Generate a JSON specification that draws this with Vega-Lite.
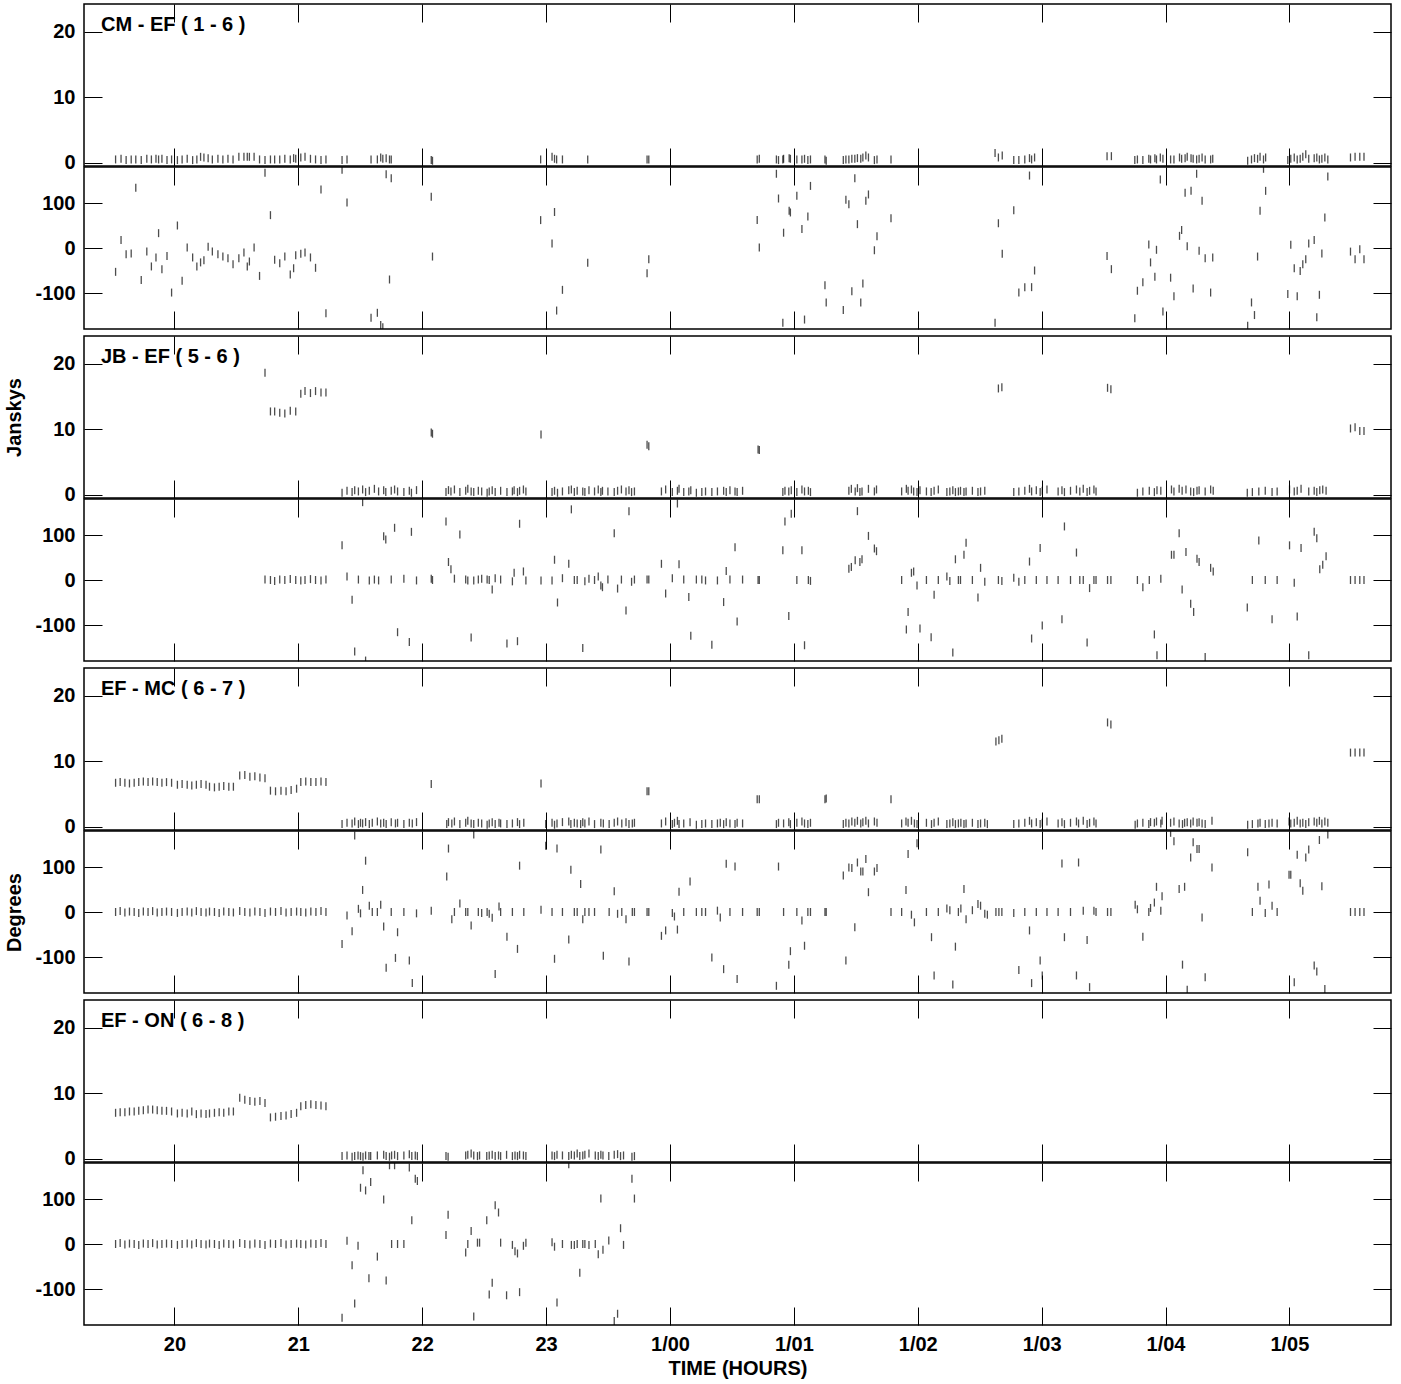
{
"$schema": "https://vega.github.io/schema/vega-lite/v6.json",
"background": "white",
"padding": {"left": 3, "top": 2, "right": 5, "bottom": 3},
"config": {
  "view": {"stroke": "#000", "strokeWidth": 1.5},
  "axis": {"labelFont": "Liberation Sans", "labelFontWeight": "bold", "labelFontSize": 20, "labelColor": "#000",
           "titleFont": "Liberation Sans", "titleFontWeight": "bold", "titleFontSize": 20, "titleColor": "#000",
           "domain": false, "grid": false, "tickColor": "#000", "tickSize": -18, "tickWidth": 1, "labelPadding": 27}
},
"datasets": {
"b1": [
{"t":19.525,"a":0.5,"p":-53},{"t":19.569,"a":0.6,"p":18},{"t":19.610,"a":0.4,"p":-14},{"t":19.651,"a":0.5,"p":-12},{"t":19.688,"a":0.5,"p":134},{"t":19.732,"a":0.4,"p":-71},{"t":19.777,"a":0.6,"p":-8},{"t":19.814,"a":0.5,"p":-41},{"t":19.851,"a":0.6,"p":-21},{"t":19.872,"a":0.5,"p":33},{"t":19.899,"a":0.6,"p":-47},{"t":19.940,"a":0.4,"p":-18},{"t":19.977,"a":0.5,"p":-99},{"t":20.024,"a":0.4,"p":50},{"t":20.062,"a":0.5,"p":-73},{"t":20.103,"a":0.6,"p":1},{"t":20.147,"a":0.4,"p":-21},{"t":20.181,"a":0.5,"p":-41},{"t":20.211,"a":0.9,"p":-32},{"t":20.238,"a":0.8,"p":-27},{"t":20.272,"a":0.7,"p":3},{"t":20.306,"a":0.5,"p":-8},{"t":20.351,"a":0.6,"p":-14},{"t":20.391,"a":0.5,"p":-19},{"t":20.432,"a":0.6,"p":-23},{"t":20.473,"a":0.5,"p":-36},{"t":20.520,"a":0.9,"p":-23},{"t":20.561,"a":0.9,"p":-10},{"t":20.588,"a":0.9,"p":-41},{"t":20.605,"a":0.9,"p":-30},{"t":20.643,"a":0.9,"p":1},{"t":20.687,"a":0.5,"p":-62},{"t":20.731,"a":0.4,"p":167},{"t":20.775,"a":0.5,"p":73},{"t":20.809,"a":0.5,"p":-26},{"t":20.850,"a":0.5,"p":-34},{"t":20.891,"a":0.6,"p":-19},{"t":20.935,"a":0.5,"p":-59},{"t":20.962,"a":0.7,"p":-45},{"t":20.979,"a":0.6,"p":-16},{"t":21.020,"a":0.8,"p":-13},{"t":21.054,"a":0.9,"p":-10},{"t":21.098,"a":0.6,"p":-21},{"t":21.139,"a":0.5,"p":-44},{"t":21.183,"a":0.4,"p":130},{"t":21.223,"a":0.5,"p":-145},{"t":21.353,"a":0.4,"p":174},{"t":21.393,"a":0.5,"p":101},{"t":21.587,"a":0.5,"p":-155},{"t":21.638,"a":0.5,"p":-144},{"t":21.665,"a":0.8,"p":-171},{"t":21.682,"a":0.6,"p":-176},{"t":21.709,"a":0.7,"p":164},{"t":21.736,"a":0.5,"p":-70},{"t":21.750,"a":0.5,"p":155},{"t":22.073,"a":0.4,"p":114},{"t":22.083,"a":0.3,"p":-19},{"t":22.956,"a":0.5,"p":62},{"t":23.048,"a":0.9,"p":10},{"t":23.068,"a":0.6,"p":80},{"t":23.085,"a":0.5,"p":-139},{"t":23.132,"a":0.5,"p":-93},{"t":23.336,"a":0.5,"p":-33},{"t":23.815,"a":0.5,"p":-56},{"t":23.829,"a":0.5,"p":-25},
{"t":24.704,"a":0.5,"p":62},{"t":24.721,"a":0.6,"p":1},{"t":24.859,"a":0.5,"p":165},{"t":24.876,"a":0.4,"p":110},{"t":24.911,"a":0.5,"p":-166},{"t":24.917,"a":0.6,"p":34},{"t":24.962,"a":0.7,"p":83},{"t":24.972,"a":0.6,"p":79},{"t":25.024,"a":0.5,"p":116},{"t":25.065,"a":0.5,"p":42},{"t":25.086,"a":0.6,"p":-159},{"t":25.113,"a":0.4,"p":70},{"t":25.134,"a":0.5,"p":138},{"t":25.251,"a":0.5,"p":-83},{"t":25.261,"a":0.3,"p":-121},{"t":25.399,"a":0.4,"p":-138},{"t":25.420,"a":0.5,"p":107},{"t":25.444,"a":0.5,"p":97},{"t":25.468,"a":0.6,"p":-96},{"t":25.492,"a":0.6,"p":155},{"t":25.513,"a":0.7,"p":53},{"t":25.540,"a":0.6,"p":-121},{"t":25.557,"a":0.8,"p":-79},{"t":25.581,"a":1.1,"p":105},{"t":25.602,"a":0.8,"p":119},{"t":25.650,"a":0.4,"p":-5},{"t":25.671,"a":0.5,"p":26},{"t":25.784,"a":0.5,"p":66},{"t":26.624,"a":1.5,"p":-166},{"t":26.651,"a":0.8,"p":55},{"t":26.682,"a":1.1,"p":-13},{"t":26.775,"a":0.4,"p":84},{"t":26.816,"a":0.4,"p":-99},{"t":26.864,"a":0.5,"p":-87},{"t":26.902,"a":0.7,"p":161},{"t":26.919,"a":0.5,"p":-87},{"t":26.943,"a":0.8,"p":-50},{"t":27.528,"a":1.0,"p":-18},{"t":27.563,"a":1.0,"p":-47},{"t":27.752,"a":0.4,"p":-156},{"t":27.773,"a":0.5,"p":-95},{"t":27.817,"a":0.4,"p":-76},{"t":27.865,"a":0.6,"p":8},{"t":27.879,"a":0.5,"p":-32},{"t":27.914,"a":0.7,"p":-64},{"t":27.927,"a":0.5,"p":-4},{"t":27.958,"a":0.8,"p":152},{"t":27.979,"a":0.6,"p":-141},{"t":28.041,"a":0.5,"p":-66},{"t":28.068,"a":0.5,"p":-107},{"t":28.113,"a":0.8,"p":27},{"t":28.130,"a":0.6,"p":40},{"t":28.158,"a":0.7,"p":123},{"t":28.175,"a":0.9,"p":4},{"t":28.206,"a":0.7,"p":127},{"t":28.223,"a":0.6,"p":-90},{"t":28.251,"a":0.5,"p":165},{"t":28.271,"a":0.6,"p":-6},{"t":28.295,"a":0.8,"p":105},{"t":28.320,"a":0.5,"p":-23},{"t":28.364,"a":0.5,"p":-99},{"t":28.381,"a":0.6,"p":-21},{"t":28.663,"a":0.3,"p":-173},{"t":28.694,"a":0.5,"p":-121},{"t":28.718,"a":0.7,"p":-149},{"t":28.743,"a":0.6,"p":-19},{"t":28.763,"a":0.9,"p":83},{"t":28.791,"a":0.5,"p":176},{"t":28.808,"a":0.8,"p":127},{"t":28.987,"a":0.4,"p":-102},{"t":29.011,"a":0.6,"p":7},{"t":29.039,"a":0.8,"p":-45},{"t":29.063,"a":0.5,"p":-107},{"t":29.087,"a":0.6,"p":-51},{"t":29.108,"a":0.9,"p":-36},{"t":29.132,"a":1.3,"p":-25},{"t":29.156,"a":0.6,"p":10},{"t":29.200,"a":0.7,"p":18},{"t":29.221,"a":0.8,"p":-154},{"t":29.242,"a":0.5,"p":-104},{"t":29.262,"a":0.6,"p":-12},{"t":29.286,"a":0.8,"p":68},{"t":29.310,"a":0.5,"p":159},{"t":29.493,"a":0.8,"p":-8},{"t":29.530,"a":0.9,"p":-25},{"t":29.568,"a":0.9,"p":-3},{"t":29.602,"a":0.9,"p":-25}
],
"b2": [
{"t":20.731,"a":18.6,"p":1},{"t":20.775,"a":12.7,"p":0},{"t":20.809,"a":12.7,"p":-2},{"t":20.850,"a":12.5,"p":1},{"t":20.891,"a":12.4,"p":0},{"t":20.935,"a":12.8,"p":2},{"t":20.979,"a":12.7,"p":0},{"t":21.020,"a":15.4,"p":-1},{"t":21.054,"a":15.8,"p":0},{"t":21.098,"a":15.5,"p":2},{"t":21.139,"a":15.8,"p":0},{"t":21.183,"a":15.6,"p":-1},{"t":21.223,"a":15.6,"p":1},
{"t":21.353,"a":0.3,"p":77},{"t":21.393,"a":0.6,"p":8},{"t":21.434,"a":0.4,"p":-44},{"t":21.455,"a":0.7,"p":-159},{"t":21.485,"a":0.5,"p":1},{"t":21.519,"a":0.8,"p":173},{"t":21.543,"a":0.4,"p":-179},{"t":21.573,"a":0.6,"p":-1},{"t":21.614,"a":0.9,"p":1},{"t":21.648,"a":0.5,"p":-1},{"t":21.689,"a":0.7,"p":97},{"t":21.706,"a":0.4,"p":90},{"t":21.750,"a":0.6,"p":1},{"t":21.777,"a":0.8,"p":116},{"t":21.801,"a":0.5,"p":-116},{"t":21.852,"a":0.4,"p":3},{"t":21.896,"a":0.6,"p":-138},{"t":21.913,"a":0.3,"p":107},{"t":21.954,"a":0.7,"p":-1},
{"t":22.073,"a":9.5,"p":3},{"t":22.083,"a":9.3,"p":0},
{"t":22.192,"a":0.4,"p":130},{"t":22.212,"a":0.7,"p":40},{"t":22.232,"a":0.5,"p":24},{"t":22.260,"a":0.8,"p":3},{"t":22.304,"a":0.4,"p":101},{"t":22.351,"a":0.6,"p":1},{"t":22.368,"a":0.9,"p":-1},{"t":22.395,"a":0.5,"p":-128},{"t":22.416,"a":0.4,"p":-1},{"t":22.453,"a":0.6,"p":1},{"t":22.480,"a":0.5,"p":3},{"t":22.524,"a":0.3,"p":1},{"t":22.541,"a":0.5,"p":0},{"t":22.565,"a":0.7,"p":-21},{"t":22.589,"a":0.4,"p":4},{"t":22.633,"a":0.6,"p":1},{"t":22.684,"a":0.4,"p":-141},{"t":22.728,"a":0.5,"p":-3},{"t":22.742,"a":0.7,"p":16},{"t":22.769,"a":0.4,"p":-136},{"t":22.786,"a":0.6,"p":125},{"t":22.817,"a":0.8,"p":19},{"t":22.837,"a":0.5,"p":-1},
{"t":22.959,"a":9.2,"p":-1},
{"t":23.048,"a":0.4,"p":-1},{"t":23.068,"a":0.6,"p":45},{"t":23.092,"a":0.3,"p":-50},{"t":23.132,"a":0.5,"p":4},{"t":23.183,"a":0.7,"p":36},{"t":23.204,"a":0.8,"p":157},{"t":23.228,"a":0.4,"p":0},{"t":23.251,"a":0.6,"p":0},{"t":23.296,"a":0.5,"p":-151},{"t":23.313,"a":0.4,"p":-3},{"t":23.346,"a":0.7,"p":3},{"t":23.391,"a":0.5,"p":0},{"t":23.421,"a":0.8,"p":8},{"t":23.442,"a":0.4,"p":-12},{"t":23.455,"a":0.6,"p":-16},{"t":23.499,"a":0.5,"p":1},{"t":23.550,"a":0.4,"p":104},{"t":23.577,"a":0.6,"p":-19},{"t":23.608,"a":0.8,"p":1},{"t":23.645,"a":0.5,"p":-68},{"t":23.669,"a":0.7,"p":153},{"t":23.690,"a":0.4,"p":-4},{"t":23.713,"a":0.5,"p":1},
{"t":23.815,"a":7.6,"p":1},{"t":23.829,"a":7.4,"p":1},
{"t":23.931,"a":0.5,"p":36},{"t":23.965,"a":0.8,"p":-30},{"t":24.019,"a":0.4,"p":4},{"t":24.060,"a":0.6,"p":170},{"t":24.073,"a":0.9,"p":35},{"t":24.111,"a":0.4,"p":1},{"t":24.152,"a":0.5,"p":-38},{"t":24.168,"a":0.7,"p":-124},{"t":24.213,"a":0.3,"p":1},{"t":24.257,"a":0.4,"p":1},{"t":24.287,"a":0.5,"p":-1},{"t":24.338,"a":0.4,"p":-144},{"t":24.383,"a":0.5,"p":-1},{"t":24.433,"a":0.6,"p":-49},{"t":24.454,"a":0.4,"p":20},{"t":24.484,"a":0.7,"p":1},{"t":24.525,"a":0.5,"p":73},{"t":24.542,"a":0.4,"p":-92},{"t":24.586,"a":0.6,"p":1},
{"t":24.711,"a":6.9,"p":0},{"t":24.721,"a":6.8,"p":0},
{"t":24.911,"a":0.4,"p":66},{"t":24.928,"a":0.6,"p":130},{"t":24.959,"a":0.5,"p":-80},{"t":24.979,"a":0.7,"p":147},{"t":25.024,"a":0.4,"p":0},{"t":25.065,"a":0.8,"p":66},{"t":25.086,"a":0.5,"p":-145},{"t":25.117,"a":0.6,"p":0},{"t":25.134,"a":0.4,"p":-2},
{"t":25.444,"a":0.6,"p":25},{"t":25.464,"a":0.9,"p":29},{"t":25.495,"a":0.5,"p":44},{"t":25.513,"a":1.0,"p":153},{"t":25.533,"a":0.4,"p":40},{"t":25.550,"a":0.5,"p":46},{"t":25.602,"a":0.9,"p":98},{"t":25.650,"a":0.5,"p":70},{"t":25.667,"a":0.8,"p":64},
{"t":25.870,"a":0.5,"p":0},{"t":25.908,"a":0.9,"p":-110},{"t":25.922,"a":0.6,"p":-71},{"t":25.949,"a":0.8,"p":16},{"t":25.967,"a":0.5,"p":19},{"t":25.994,"a":0.4,"p":-12},{"t":26.018,"a":0.7,"p":-108},{"t":26.070,"a":0.5,"p":0},{"t":26.108,"a":0.4,"p":-127},{"t":26.132,"a":0.6,"p":-33},{"t":26.166,"a":0.8,"p":0},{"t":26.235,"a":0.4,"p":8},{"t":26.259,"a":0.5,"p":-2},{"t":26.283,"a":0.7,"p":-161},{"t":26.304,"a":0.4,"p":46},{"t":26.328,"a":0.5,"p":0},{"t":26.345,"a":0.6,"p":0},{"t":26.373,"a":0.4,"p":56},{"t":26.390,"a":0.5,"p":83},{"t":26.441,"a":0.6,"p":0},{"t":26.486,"a":0.4,"p":-39},{"t":26.507,"a":0.5,"p":27},{"t":26.541,"a":0.6,"p":-4},
{"t":26.651,"a":16.2,"p":0},{"t":26.679,"a":16.4,"p":-2},
{"t":26.775,"a":0.4,"p":5},{"t":26.816,"a":0.5,"p":-4},{"t":26.864,"a":0.6,"p":0},{"t":26.902,"a":0.9,"p":41},{"t":26.919,"a":0.5,"p":-130},{"t":26.957,"a":0.7,"p":0},{"t":26.988,"a":0.4,"p":71},{"t":27.005,"a":0.6,"p":-101},{"t":27.043,"a":0.8,"p":0},{"t":27.133,"a":0.5,"p":0},{"t":27.164,"a":0.7,"p":-87},{"t":27.184,"a":0.4,"p":119},{"t":27.233,"a":0.6,"p":0},{"t":27.281,"a":0.8,"p":61},{"t":27.308,"a":0.5,"p":0},{"t":27.336,"a":0.9,"p":0},{"t":27.367,"a":0.4,"p":-139},{"t":27.387,"a":0.6,"p":-18},{"t":27.422,"a":0.8,"p":0},{"t":27.439,"a":0.5,"p":0},
{"t":27.532,"a":16.3,"p":0},{"t":27.559,"a":16.1,"p":0},
{"t":27.773,"a":0.3,"p":0},{"t":27.817,"a":0.5,"p":-16},{"t":27.869,"a":0.6,"p":0},{"t":27.910,"a":0.4,"p":-121},{"t":27.931,"a":0.7,"p":-167},{"t":27.962,"a":0.6,"p":3},{"t":28.048,"a":0.8,"p":56},{"t":28.068,"a":0.5,"p":56},{"t":28.110,"a":0.9,"p":104},{"t":28.134,"a":0.6,"p":-21},{"t":28.165,"a":0.8,"p":62},{"t":28.203,"a":0.5,"p":-53},{"t":28.227,"a":0.4,"p":-71},{"t":28.254,"a":0.6,"p":47},{"t":28.271,"a":0.7,"p":40},{"t":28.320,"a":0.5,"p":-171},{"t":28.364,"a":0.8,"p":27},{"t":28.385,"a":0.6,"p":19},
{"t":28.660,"a":0.3,"p":-61},{"t":28.701,"a":0.4,"p":0},{"t":28.753,"a":0.5,"p":88},{"t":28.805,"a":0.6,"p":0},{"t":28.860,"a":0.4,"p":-87},{"t":28.901,"a":0.5,"p":0},{"t":29.001,"a":0.8,"p":77},{"t":29.039,"a":0.5,"p":-6},{"t":29.063,"a":0.6,"p":-81},{"t":29.094,"a":0.9,"p":71},{"t":29.156,"a":0.5,"p":-167},{"t":29.200,"a":0.6,"p":107},{"t":29.221,"a":0.4,"p":93},{"t":29.245,"a":0.7,"p":24},{"t":29.269,"a":0.8,"p":34},{"t":29.296,"a":0.6,"p":53},
{"t":29.493,"a":10.1,"p":0},{"t":29.530,"a":10.3,"p":0},{"t":29.568,"a":9.7,"p":0},{"t":29.602,"a":9.7,"p":0}
],
"b3": [
{"t":19.525,"a":6.7,"p":0},{"t":19.562,"a":6.8,"p":2},{"t":19.600,"a":6.7,"p":-1},{"t":19.637,"a":6.6,"p":1},{"t":19.675,"a":6.7,"p":0},{"t":19.712,"a":6.8,"p":-2},{"t":19.749,"a":6.9,"p":1},{"t":19.787,"a":6.8,"p":0},{"t":19.824,"a":6.9,"p":2},{"t":19.861,"a":6.8,"p":-1},{"t":19.899,"a":6.7,"p":0},{"t":19.936,"a":6.8,"p":1},{"t":19.977,"a":6.7,"p":0},
{"t":20.024,"a":6.4,"p":-2},{"t":20.062,"a":6.5,"p":0},{"t":20.103,"a":6.4,"p":1},{"t":20.140,"a":6.3,"p":-1},{"t":20.177,"a":6.4,"p":2},{"t":20.215,"a":6.5,"p":0},{"t":20.255,"a":6.4,"p":-1},
{"t":20.283,"a":6.1,"p":1},{"t":20.323,"a":6.0,"p":0},{"t":20.361,"a":6.1,"p":-2},{"t":20.398,"a":6.2,"p":1},{"t":20.439,"a":6.1,"p":0},{"t":20.476,"a":6.1,"p":-1},
{"t":20.527,"a":7.8,"p":2},{"t":20.568,"a":7.9,"p":0},{"t":20.609,"a":7.6,"p":-1},{"t":20.649,"a":7.7,"p":1},{"t":20.690,"a":7.5,"p":0},{"t":20.731,"a":7.4,"p":-2},
{"t":20.775,"a":5.5,"p":1},{"t":20.816,"a":5.4,"p":0},{"t":20.860,"a":5.5,"p":2},{"t":20.901,"a":5.4,"p":-1},{"t":20.942,"a":5.6,"p":0},{"t":20.986,"a":5.8,"p":1},
{"t":21.020,"a":6.8,"p":0},{"t":21.060,"a":6.9,"p":-1},{"t":21.101,"a":6.8,"p":1},{"t":21.142,"a":6.8,"p":0},{"t":21.183,"a":6.9,"p":2},{"t":21.223,"a":6.8,"p":0},
{"t":21.353,"a":0.4,"p":-71},{"t":21.393,"a":0.6,"p":-8},{"t":21.434,"a":0.5,"p":-43},{"t":21.455,"a":0.8,"p":170},{"t":21.485,"a":0.4,"p":7},{"t":21.502,"a":0.6,"p":-3},{"t":21.519,"a":0.5,"p":49},{"t":21.543,"a":0.7,"p":114},{"t":21.573,"a":0.4,"p":14},{"t":21.597,"a":0.6,"p":0},{"t":21.638,"a":0.8,"p":0},{"t":21.665,"a":0.5,"p":16},{"t":21.689,"a":0.6,"p":-32},{"t":21.709,"a":0.4,"p":-124},{"t":21.750,"a":0.7,"p":0},{"t":21.784,"a":0.5,"p":-102},{"t":21.801,"a":0.6,"p":-45},{"t":21.852,"a":0.4,"p":0},{"t":21.896,"a":0.6,"p":-108},{"t":21.920,"a":0.5,"p":-158},{"t":21.954,"a":0.7,"p":-3},
{"t":22.073,"a":6.5,"p":3},
{"t":22.198,"a":0.4,"p":79},{"t":22.212,"a":0.7,"p":141},{"t":22.239,"a":0.5,"p":-16},{"t":22.260,"a":0.8,"p":0},{"t":22.304,"a":0.4,"p":19},{"t":22.351,"a":0.6,"p":0},{"t":22.368,"a":0.9,"p":0},{"t":22.395,"a":0.5,"p":-30},{"t":22.416,"a":0.4,"p":172},{"t":22.453,"a":0.6,"p":0},{"t":22.480,"a":0.5,"p":-2},{"t":22.524,"a":0.3,"p":0},{"t":22.541,"a":0.5,"p":-4},{"t":22.565,"a":0.7,"p":-13},{"t":22.589,"a":0.4,"p":-138},{"t":22.620,"a":0.6,"p":12},{"t":22.633,"a":0.5,"p":0},{"t":22.684,"a":0.4,"p":-55},{"t":22.728,"a":0.5,"p":0},{"t":22.769,"a":0.7,"p":-82},{"t":22.786,"a":0.4,"p":103},{"t":22.820,"a":0.6,"p":0},
{"t":22.959,"a":6.6,"p":5},
{"t":22.997,"a":0.4,"p":147},{"t":23.048,"a":0.6,"p":0},{"t":23.068,"a":0.3,"p":-104},{"t":23.088,"a":0.5,"p":141},{"t":23.132,"a":0.7,"p":0},{"t":23.183,"a":0.8,"p":-61},{"t":23.200,"a":0.4,"p":94},{"t":23.228,"a":0.6,"p":0},{"t":23.251,"a":0.5,"p":0},{"t":23.279,"a":0.4,"p":62},{"t":23.296,"a":0.7,"p":-16},{"t":23.313,"a":0.5,"p":0},{"t":23.346,"a":0.8,"p":0},{"t":23.391,"a":0.4,"p":0},{"t":23.442,"a":0.6,"p":139},{"t":23.462,"a":0.5,"p":-97},{"t":23.509,"a":0.4,"p":0},{"t":23.550,"a":0.6,"p":46},{"t":23.577,"a":0.8,"p":-4},{"t":23.611,"a":0.5,"p":0},{"t":23.645,"a":0.7,"p":-16},{"t":23.669,"a":0.4,"p":-110},{"t":23.696,"a":0.5,"p":0},{"t":23.713,"a":0.6,"p":0},
{"t":23.815,"a":5.4,"p":0},{"t":23.829,"a":5.4,"p":0},
{"t":23.931,"a":0.5,"p":-53},{"t":23.965,"a":0.8,"p":-41},{"t":24.019,"a":0.4,"p":-2},{"t":24.036,"a":0.6,"p":-10},{"t":24.060,"a":0.9,"p":-39},{"t":24.073,"a":0.4,"p":45},{"t":24.111,"a":0.5,"p":0},{"t":24.162,"a":0.7,"p":68},{"t":24.213,"a":0.3,"p":0},{"t":24.257,"a":0.4,"p":0},{"t":24.287,"a":0.5,"p":0},{"t":24.338,"a":0.4,"p":-101},{"t":24.383,"a":0.5,"p":3},{"t":24.406,"a":0.6,"p":-12},{"t":24.433,"a":0.4,"p":-127},{"t":24.454,"a":0.7,"p":107},{"t":24.484,"a":0.5,"p":0},{"t":24.525,"a":0.4,"p":101},{"t":24.542,"a":0.6,"p":-149},{"t":24.586,"a":0.5,"p":0},
{"t":24.704,"a":4.2,"p":0},{"t":24.721,"a":4.2,"p":0},
{"t":24.859,"a":0.4,"p":-164},{"t":24.876,"a":0.6,"p":101},{"t":24.917,"a":0.5,"p":0},{"t":24.959,"a":0.7,"p":-117},{"t":24.972,"a":0.4,"p":-87},{"t":25.024,"a":0.6,"p":0},{"t":25.065,"a":0.8,"p":-19},{"t":25.086,"a":0.5,"p":-75},{"t":25.113,"a":0.4,"p":0},{"t":25.134,"a":0.6,"p":0},
{"t":25.251,"a":4.2,"p":0},{"t":25.261,"a":4.3,"p":0},
{"t":25.399,"a":0.4,"p":81},{"t":25.420,"a":0.6,"p":-108},{"t":25.444,"a":0.5,"p":99},{"t":25.468,"a":0.8,"p":98},{"t":25.492,"a":0.6,"p":-34},{"t":25.513,"a":0.9,"p":110},{"t":25.540,"a":0.5,"p":90},{"t":25.557,"a":0.7,"p":90},{"t":25.581,"a":0.9,"p":118},{"t":25.602,"a":0.5,"p":44},{"t":25.650,"a":0.8,"p":90},{"t":25.671,"a":0.6,"p":98},
{"t":25.784,"a":4.2,"p":0},
{"t":25.870,"a":0.5,"p":0},{"t":25.905,"a":0.8,"p":49},{"t":25.922,"a":0.6,"p":129},{"t":25.949,"a":0.9,"p":-6},{"t":25.973,"a":0.5,"p":-23},{"t":25.994,"a":0.4,"p":153},{"t":26.070,"a":0.6,"p":0},{"t":26.111,"a":0.4,"p":-56},{"t":26.132,"a":0.6,"p":-141},{"t":26.166,"a":0.8,"p":0},{"t":26.235,"a":0.4,"p":8},{"t":26.259,"a":0.5,"p":4},{"t":26.283,"a":0.7,"p":-161},{"t":26.304,"a":0.4,"p":-77},{"t":26.328,"a":0.5,"p":0},{"t":26.348,"a":0.6,"p":8},{"t":26.373,"a":0.4,"p":51},{"t":26.390,"a":0.5,"p":-16},{"t":26.441,"a":0.6,"p":4},{"t":26.486,"a":0.4,"p":18},{"t":26.507,"a":0.5,"p":14},{"t":26.541,"a":0.6,"p":-4},{"t":26.562,"a":0.4,"p":-6},
{"t":26.631,"a":13.0,"p":0},{"t":26.655,"a":13.2,"p":0},{"t":26.679,"a":13.4,"p":0},
{"t":26.775,"a":0.4,"p":-2},{"t":26.816,"a":0.5,"p":-129},{"t":26.864,"a":0.6,"p":0},{"t":26.902,"a":0.9,"p":-41},{"t":26.919,"a":0.5,"p":-158},{"t":26.957,"a":0.7,"p":0},{"t":26.988,"a":0.4,"p":-108},{"t":27.005,"a":0.6,"p":-141},{"t":27.043,"a":0.8,"p":0},{"t":27.133,"a":0.5,"p":0},{"t":27.164,"a":0.7,"p":108},{"t":27.184,"a":0.4,"p":-56},{"t":27.233,"a":0.6,"p":0},{"t":27.281,"a":0.8,"p":-141},{"t":27.298,"a":0.5,"p":110},{"t":27.336,"a":0.9,"p":3},{"t":27.367,"a":0.4,"p":-62},{"t":27.387,"a":0.6,"p":-167},{"t":27.422,"a":0.8,"p":3},{"t":27.439,"a":0.5,"p":0},
{"t":27.532,"a":15.9,"p":0},{"t":27.559,"a":15.6,"p":0},
{"t":27.755,"a":0.3,"p":16},{"t":27.773,"a":0.5,"p":6},{"t":27.817,"a":0.6,"p":-55},{"t":27.865,"a":0.4,"p":0},{"t":27.879,"a":0.7,"p":9},{"t":27.910,"a":0.6,"p":21},{"t":27.927,"a":0.8,"p":56},{"t":27.962,"a":0.5,"p":3},{"t":27.972,"a":0.9,"p":35},{"t":28.041,"a":0.6,"p":176},{"t":28.068,"a":0.8,"p":157},{"t":28.110,"a":0.5,"p":51},{"t":28.137,"a":0.4,"p":-117},{"t":28.154,"a":0.6,"p":56},{"t":28.175,"a":0.7,"p":-173},{"t":28.203,"a":0.5,"p":121},{"t":28.223,"a":0.8,"p":155},{"t":28.254,"a":0.6,"p":140},{"t":28.271,"a":0.7,"p":140},{"t":28.295,"a":0.5,"p":-12},{"t":28.320,"a":0.4,"p":-145},{"t":28.375,"a":0.9,"p":99},
{"t":28.663,"a":0.3,"p":133},{"t":28.701,"a":0.4,"p":0},{"t":28.746,"a":0.5,"p":56},{"t":28.763,"a":0.6,"p":25},{"t":28.805,"a":0.4,"p":-2},{"t":28.835,"a":0.5,"p":61},{"t":28.860,"a":0.6,"p":14},{"t":28.901,"a":0.5,"p":0},{"t":28.997,"a":0.8,"p":83},{"t":29.011,"a":0.5,"p":83},{"t":29.039,"a":0.6,"p":-156},{"t":29.063,"a":0.9,"p":127},{"t":29.087,"a":0.5,"p":64},{"t":29.108,"a":0.6,"p":47},{"t":29.132,"a":0.4,"p":121},{"t":29.156,"a":0.7,"p":139},{"t":29.200,"a":0.8,"p":-119},{"t":29.221,"a":0.6,"p":-132},{"t":29.242,"a":0.9,"p":160},{"t":29.262,"a":0.5,"p":57},{"t":29.286,"a":0.8,"p":-171},{"t":29.310,"a":0.6,"p":172},
{"t":29.493,"a":11.3,"p":0},{"t":29.530,"a":11.3,"p":0},{"t":29.568,"a":11.3,"p":0},{"t":29.602,"a":11.3,"p":0}
],
"b4": [
{"t":19.525,"a":7.0,"p":0},{"t":19.562,"a":7.1,"p":2},{"t":19.600,"a":7.1,"p":-1},{"t":19.637,"a":7.2,"p":1},{"t":19.675,"a":7.2,"p":0},{"t":19.712,"a":7.3,"p":-2},{"t":19.749,"a":7.4,"p":1},{"t":19.787,"a":7.5,"p":0},{"t":19.824,"a":7.5,"p":2},{"t":19.861,"a":7.4,"p":-1},{"t":19.899,"a":7.3,"p":0},{"t":19.936,"a":7.3,"p":1},{"t":19.977,"a":7.2,"p":0},
{"t":20.024,"a":6.9,"p":-2},{"t":20.062,"a":7.0,"p":0},{"t":20.103,"a":6.9,"p":1},{"t":20.140,"a":7.2,"p":-1},{"t":20.177,"a":6.8,"p":2},{"t":20.215,"a":6.9,"p":0},{"t":20.255,"a":6.8,"p":-1},
{"t":20.283,"a":6.9,"p":1},{"t":20.323,"a":7.0,"p":0},{"t":20.361,"a":7.1,"p":-2},{"t":20.398,"a":7.0,"p":1},{"t":20.439,"a":7.2,"p":0},{"t":20.476,"a":7.2,"p":-1},
{"t":20.527,"a":9.3,"p":2},{"t":20.568,"a":9.0,"p":0},{"t":20.609,"a":8.8,"p":-1},{"t":20.649,"a":8.7,"p":1},{"t":20.690,"a":8.8,"p":0},{"t":20.731,"a":8.5,"p":-2},
{"t":20.775,"a":6.3,"p":1},{"t":20.816,"a":6.4,"p":0},{"t":20.860,"a":6.5,"p":2},{"t":20.901,"a":6.6,"p":-1},{"t":20.942,"a":6.8,"p":0},{"t":20.986,"a":7.0,"p":1},
{"t":21.020,"a":8.0,"p":0},{"t":21.060,"a":8.2,"p":-1},{"t":21.101,"a":8.3,"p":1},{"t":21.142,"a":8.2,"p":0},{"t":21.183,"a":8.1,"p":2},{"t":21.223,"a":8.0,"p":0},
{"t":21.353,"a":0.4,"p":-164},{"t":21.393,"a":0.5,"p":7},{"t":21.434,"a":0.3,"p":-47},{"t":21.455,"a":0.4,"p":-132},{"t":21.482,"a":0.5,"p":-4},{"t":21.502,"a":0.4,"p":125},{"t":21.522,"a":0.3,"p":164},{"t":21.543,"a":0.5,"p":119},{"t":21.570,"a":0.4,"p":-76},{"t":21.584,"a":0.4,"p":138},{"t":21.638,"a":0.5,"p":-28},{"t":21.689,"a":0.6,"p":99},{"t":21.709,"a":0.4,"p":-81},{"t":21.736,"a":0.3,"p":175},{"t":21.753,"a":0.5,"p":0},{"t":21.777,"a":0.6,"p":175},{"t":21.801,"a":0.4,"p":0},{"t":21.852,"a":0.5,"p":0},{"t":21.896,"a":0.7,"p":170},{"t":21.916,"a":0.4,"p":53},{"t":21.944,"a":0.5,"p":145},{"t":21.961,"a":0.4,"p":140},
{"t":22.192,"a":0.4,"p":20},{"t":22.209,"a":0.3,"p":65},
{"t":22.351,"a":0.5,"p":-19},{"t":22.368,"a":0.6,"p":0},{"t":22.395,"a":0.8,"p":29},{"t":22.416,"a":0.5,"p":-161},{"t":22.446,"a":0.4,"p":3},{"t":22.463,"a":0.5,"p":3},{"t":22.521,"a":0.4,"p":53},{"t":22.541,"a":0.5,"p":-112},{"t":22.565,"a":0.6,"p":-86},{"t":22.589,"a":0.4,"p":86},{"t":22.616,"a":0.5,"p":70},{"t":22.633,"a":0.4,"p":3},{"t":22.681,"a":0.6,"p":-114},{"t":22.728,"a":0.4,"p":-2},{"t":22.749,"a":0.5,"p":-16},{"t":22.769,"a":0.4,"p":-21},{"t":22.786,"a":0.6,"p":-107},{"t":22.817,"a":0.5,"p":-4},{"t":22.837,"a":0.4,"p":3},
{"t":23.048,"a":0.5,"p":4},{"t":23.068,"a":0.4,"p":-6},{"t":23.088,"a":0.6,"p":-130},{"t":23.132,"a":0.5,"p":0},{"t":23.183,"a":0.4,"p":177},{"t":23.204,"a":0.6,"p":-2},{"t":23.228,"a":0.5,"p":-2},{"t":23.251,"a":0.8,"p":0},{"t":23.272,"a":0.4,"p":-64},{"t":23.296,"a":0.5,"p":0},{"t":23.313,"a":0.6,"p":0},{"t":23.346,"a":0.8,"p":-2},{"t":23.397,"a":0.5,"p":0},{"t":23.421,"a":0.4,"p":-23},{"t":23.442,"a":0.6,"p":101},{"t":23.459,"a":0.5,"p":-13},{"t":23.506,"a":0.4,"p":8},{"t":23.550,"a":0.6,"p":-171},{"t":23.577,"a":0.7,"p":-155},{"t":23.601,"a":0.4,"p":35},{"t":23.625,"a":0.5,"p":-2},{"t":23.693,"a":0.3,"p":145},{"t":23.713,"a":0.4,"p":101}
]
},
"spacing": 3,
"vconcat": [
 {"spacing": 1, "bounds": "flush", "vconcat": [
  {"width": 1307, "height": 162, "data": {"name": "b1"},
   "title": {"text": "CM - EF ( 1 - 6 )", "anchor": "start", "frame": "group", "offset": -27, "dx": 17, "dy": 20, "baseline": "alphabetic", "font": "Liberation Sans", "fontSize": 20, "fontWeight": "bold", "color": "#000"},
   "layer": [
    {"mark": {"type": "tick", "orient": "vertical", "size": 8, "thickness": 1.3, "color": "#000", "clip": true},
     "encoding": {"x": {"field": "t", "type": "quantitative", "scale": {"domain": [19.27, 29.82], "nice": false, "zero": false}, "axis": {"orient": "bottom", "values": [20,21,22,23,24,25,26,27,28,29], "labels": false, "title": null}},
                  "y": {"field": "a", "type": "quantitative", "scale": {"domain": [-0.5, 24.2], "nice": false, "zero": false}, "axis": {"orient": "left", "values": [0,10,20], "title": null}}}},
    {"mark": {"type": "tick", "orient": "vertical", "opacity": 0, "clip": true},
     "encoding": {"x": {"field": "t", "type": "quantitative", "axis": {"orient": "top", "values": [20,21,22,23,24,25,26,27,28,29], "labels": false, "title": null}},
                  "y": {"field": "a", "type": "quantitative", "axis": {"orient": "right", "values": [0,10,20], "labels": false, "title": null}}}}
   ],
   "resolve": {"axis": {"x": "independent", "y": "independent"}}},
  {"width": 1307, "height": 162, "data": {"name": "b1"},
   "layer": [
    {"mark": {"type": "tick", "orient": "vertical", "size": 8, "thickness": 1.3, "color": "#000", "clip": true},
     "encoding": {"x": {"field": "t", "type": "quantitative", "scale": {"domain": [19.27, 29.82], "nice": false, "zero": false}, "axis": {"orient": "bottom", "values": [20,21,22,23,24,25,26,27,28,29], "labels": false, "title": null}},
                  "y": {"field": "p", "type": "quantitative", "scale": {"domain": [-180, 180], "nice": false, "zero": false}, "axis": {"orient": "left", "values": [-100,0,100], "labelExpr": "datum.value + ''", "title": null}}}},
    {"mark": {"type": "tick", "orient": "vertical", "opacity": 0, "clip": true},
     "encoding": {"x": {"field": "t", "type": "quantitative", "axis": {"orient": "top", "values": [20,21,22,23,24,25,26,27,28,29], "labels": false, "title": null}},
                  "y": {"field": "p", "type": "quantitative", "axis": {"orient": "right", "values": [-100,0,100], "labels": false, "title": null}}}}
   ],
   "resolve": {"axis": {"x": "independent", "y": "independent"}}}
 ]},
 {"spacing": 1, "bounds": "flush", "vconcat": [
  {"width": 1307, "height": 162, "data": {"name": "b2"},
   "title": {"text": "JB - EF ( 5 - 6 )", "anchor": "start", "frame": "group", "offset": -27, "dx": 17, "dy": 20, "baseline": "alphabetic", "font": "Liberation Sans", "fontSize": 20, "fontWeight": "bold", "color": "#000"},
   "layer": [
    {"mark": {"type": "tick", "orient": "vertical", "size": 8, "thickness": 1.3, "color": "#000", "clip": true},
     "encoding": {"x": {"field": "t", "type": "quantitative", "scale": {"domain": [19.27, 29.82], "nice": false, "zero": false}, "axis": {"orient": "bottom", "values": [20,21,22,23,24,25,26,27,28,29], "labels": false, "title": null}},
                  "y": {"field": "a", "type": "quantitative", "scale": {"domain": [-0.5, 24.2], "nice": false, "zero": false}, "axis": {"orient": "left", "values": [0,10,20], "title": "Janskys", "titleX": -60, "titleY": 81}}}},
    {"mark": {"type": "tick", "orient": "vertical", "opacity": 0, "clip": true},
     "encoding": {"x": {"field": "t", "type": "quantitative", "axis": {"orient": "top", "values": [20,21,22,23,24,25,26,27,28,29], "labels": false, "title": null}},
                  "y": {"field": "a", "type": "quantitative", "axis": {"orient": "right", "values": [0,10,20], "labels": false, "title": null}}}}
   ],
   "resolve": {"axis": {"x": "independent", "y": "independent"}}},
  {"width": 1307, "height": 162, "data": {"name": "b2"},
   "layer": [
    {"mark": {"type": "tick", "orient": "vertical", "size": 8, "thickness": 1.3, "color": "#000", "clip": true},
     "encoding": {"x": {"field": "t", "type": "quantitative", "scale": {"domain": [19.27, 29.82], "nice": false, "zero": false}, "axis": {"orient": "bottom", "values": [20,21,22,23,24,25,26,27,28,29], "labels": false, "title": null}},
                  "y": {"field": "p", "type": "quantitative", "scale": {"domain": [-180, 180], "nice": false, "zero": false}, "axis": {"orient": "left", "values": [-100,0,100], "labelExpr": "datum.value + ''", "title": null}}}},
    {"mark": {"type": "tick", "orient": "vertical", "opacity": 0, "clip": true},
     "encoding": {"x": {"field": "t", "type": "quantitative", "axis": {"orient": "top", "values": [20,21,22,23,24,25,26,27,28,29], "labels": false, "title": null}},
                  "y": {"field": "p", "type": "quantitative", "axis": {"orient": "right", "values": [-100,0,100], "labels": false, "title": null}}}}
   ],
   "resolve": {"axis": {"x": "independent", "y": "independent"}}}
 ]},
 {"spacing": 1, "bounds": "flush", "vconcat": [
  {"width": 1307, "height": 162, "data": {"name": "b3"},
   "title": {"text": "EF - MC ( 6 - 7 )", "anchor": "start", "frame": "group", "offset": -27, "dx": 17, "dy": 20, "baseline": "alphabetic", "font": "Liberation Sans", "fontSize": 20, "fontWeight": "bold", "color": "#000"},
   "layer": [
    {"mark": {"type": "tick", "orient": "vertical", "size": 8, "thickness": 1.3, "color": "#000", "clip": true},
     "encoding": {"x": {"field": "t", "type": "quantitative", "scale": {"domain": [19.27, 29.82], "nice": false, "zero": false}, "axis": {"orient": "bottom", "values": [20,21,22,23,24,25,26,27,28,29], "labels": false, "title": null}},
                  "y": {"field": "a", "type": "quantitative", "scale": {"domain": [-0.5, 24.2], "nice": false, "zero": false}, "axis": {"orient": "left", "values": [0,10,20], "title": null}}}},
    {"mark": {"type": "tick", "orient": "vertical", "opacity": 0, "clip": true},
     "encoding": {"x": {"field": "t", "type": "quantitative", "axis": {"orient": "top", "values": [20,21,22,23,24,25,26,27,28,29], "labels": false, "title": null}},
                  "y": {"field": "a", "type": "quantitative", "axis": {"orient": "right", "values": [0,10,20], "labels": false, "title": null}}}}
   ],
   "resolve": {"axis": {"x": "independent", "y": "independent"}}},
  {"width": 1307, "height": 162, "data": {"name": "b3"},
   "layer": [
    {"mark": {"type": "tick", "orient": "vertical", "size": 8, "thickness": 1.3, "color": "#000", "clip": true},
     "encoding": {"x": {"field": "t", "type": "quantitative", "scale": {"domain": [19.27, 29.82], "nice": false, "zero": false}, "axis": {"orient": "bottom", "values": [20,21,22,23,24,25,26,27,28,29], "labels": false, "title": null}},
                  "y": {"field": "p", "type": "quantitative", "scale": {"domain": [-180, 180], "nice": false, "zero": false}, "axis": {"orient": "left", "values": [-100,0,100], "labelExpr": "datum.value + ''", "title": "Degrees", "titleX": -60, "titleY": 81}}}},
    {"mark": {"type": "tick", "orient": "vertical", "opacity": 0, "clip": true},
     "encoding": {"x": {"field": "t", "type": "quantitative", "axis": {"orient": "top", "values": [20,21,22,23,24,25,26,27,28,29], "labels": false, "title": null}},
                  "y": {"field": "p", "type": "quantitative", "axis": {"orient": "right", "values": [-100,0,100], "labels": false, "title": null}}}}
   ],
   "resolve": {"axis": {"x": "independent", "y": "independent"}}}
 ]},
 {"spacing": 1, "bounds": "flush", "vconcat": [
  {"width": 1307, "height": 162, "data": {"name": "b4"},
   "title": {"text": "EF - ON ( 6 - 8 )", "anchor": "start", "frame": "group", "offset": -27, "dx": 17, "dy": 20, "baseline": "alphabetic", "font": "Liberation Sans", "fontSize": 20, "fontWeight": "bold", "color": "#000"},
   "layer": [
    {"mark": {"type": "tick", "orient": "vertical", "size": 8, "thickness": 1.3, "color": "#000", "clip": true},
     "encoding": {"x": {"field": "t", "type": "quantitative", "scale": {"domain": [19.27, 29.82], "nice": false, "zero": false}, "axis": {"orient": "bottom", "values": [20,21,22,23,24,25,26,27,28,29], "labels": false, "title": null}},
                  "y": {"field": "a", "type": "quantitative", "scale": {"domain": [-0.5, 24.2], "nice": false, "zero": false}, "axis": {"orient": "left", "values": [0,10,20], "title": null}}}},
    {"mark": {"type": "tick", "orient": "vertical", "opacity": 0, "clip": true},
     "encoding": {"x": {"field": "t", "type": "quantitative", "axis": {"orient": "top", "values": [20,21,22,23,24,25,26,27,28,29], "labels": false, "title": null}},
                  "y": {"field": "a", "type": "quantitative", "axis": {"orient": "right", "values": [0,10,20], "labels": false, "title": null}}}}
   ],
   "resolve": {"axis": {"x": "independent", "y": "independent"}}},
  {"width": 1307, "height": 162, "data": {"name": "b4"},
   "layer": [
    {"mark": {"type": "tick", "orient": "vertical", "size": 8, "thickness": 1.3, "color": "#000", "clip": true},
     "encoding": {"x": {"field": "t", "type": "quantitative", "scale": {"domain": [19.27, 29.82], "nice": false, "zero": false}, "axis": {"orient": "bottom", "values": [20,21,22,23,24,25,26,27,28,29], "labelExpr": "datum.value < 24 ? format(datum.value, 'd') : '1/0' + format(datum.value - 24, 'd')", "title": "TIME (HOURS)", "titlePadding": 4}},
                  "y": {"field": "p", "type": "quantitative", "scale": {"domain": [-180, 180], "nice": false, "zero": false}, "axis": {"orient": "left", "values": [-100,0,100], "labelExpr": "datum.value + ''", "title": null}}}},
    {"mark": {"type": "tick", "orient": "vertical", "opacity": 0, "clip": true},
     "encoding": {"x": {"field": "t", "type": "quantitative", "axis": {"orient": "top", "values": [20,21,22,23,24,25,26,27,28,29], "labels": false, "title": null}},
                  "y": {"field": "p", "type": "quantitative", "axis": {"orient": "right", "values": [-100,0,100], "labels": false, "title": null}}}}
   ],
   "resolve": {"axis": {"x": "independent", "y": "independent"}}}
 ]}
]
}
